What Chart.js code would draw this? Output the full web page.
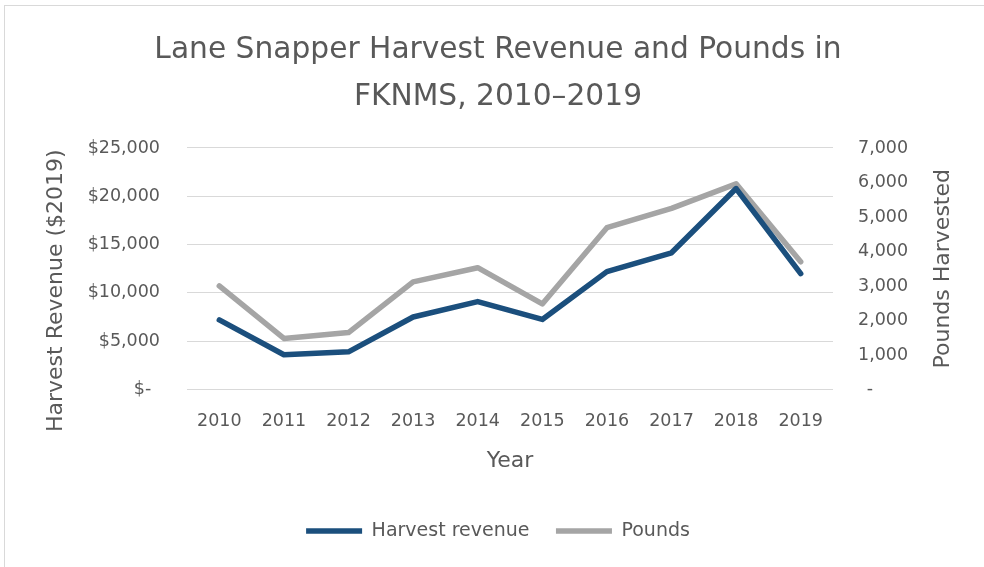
<!DOCTYPE html>
<html>
<head>
<meta charset="utf-8">
<script src="https://cdn.jsdelivr.net/npm/chart.js@4.4.1/dist/chart.umd.min.js"></script>
<style>
  html, body { margin: 0; padding: 0; background: #ffffff; }
  #frame { position: relative; width: 984px; height: 567px; overflow: hidden; }
  #edge {
    position: absolute; left: 4px; top: 5px; right: 0; bottom: 0;
    border-top: 1px solid #d9d9d9; border-left: 1px solid #d9d9d9;
    pointer-events: none;
  }
  canvas { position: absolute; left: 0; top: 0; }
</style>
</head>
<body>
<div id="frame">
  <canvas id="chart" width="984" height="567"></canvas>
  <div id="edge"></div>
</div>
<script>
// Lane snapper harvest, Florida Keys National Marine Sanctuary
const years = ['2010', '2011', '2012', '2013', '2014', '2015', '2016', '2017', '2018', '2019'];
const revenue = [7200, 3600, 3900, 7500, 9100, 7250, 12200, 14150, 20800, 12000];   // $2019
const pounds = [3000, 1480, 1650, 3120, 3530, 2480, 4690, 5250, 5960, 3700];       // lbs

const titleLines = ['Lane Snapper Harvest Revenue and Pounds in', 'FKNMS, 2010\u20132019'];
const revenueLabel = 'Harvest revenue';
const poundsLabel = 'Pounds';
const xTitle = 'Year';
const leftTitle = 'Harvest Revenue ($2019)';
const rightTitle = 'Pounds Harvested';

const FONT = '"DejaVu Sans", sans-serif';
const TEXT = '#595959';
const GRID = '#d9d9d9';
const BLUE = '#1b4f7d';
const GREY = '#a5a5a5';
const TICK_SIZE = 17.5;
const AXIS_TITLE_SIZE = 22;

// Vertical axis titles, both reading bottom-to-top
const sideTitlesPlugin = {
  id: 'sideTitles',
  afterDraw(chart) {
    const ctx = chart.ctx;
    const draw = (text, x, y) => {
      ctx.save();
      ctx.fillStyle = TEXT;
      ctx.font = AXIS_TITLE_SIZE + 'px ' + FONT;
      ctx.textAlign = 'center';
      ctx.textBaseline = 'middle';
      ctx.translate(x, y);
      ctx.rotate(-Math.PI / 2);
      ctx.fillText(text, 0, 0);
      ctx.restore();
    };
    const l = chart.scales.y, r = chart.scales.y2;
    draw(leftTitle, l.left + 44, (l.top + l.bottom) / 2 + 22);
    draw(rightTitle, r.right - 41, (r.top + r.bottom) / 2);
  }
};

new Chart(document.getElementById('chart'), {
  type: 'line',
  data: {
    labels: years,
    datasets: [
      {
        label: revenueLabel, data: revenue, yAxisID: 'y',
        borderColor: BLUE, backgroundColor: BLUE, borderWidth: 5.5,
        pointRadius: 0, borderCapStyle: 'round', borderJoinStyle: 'round', tension: 0
      },
      {
        label: poundsLabel, data: pounds, yAxisID: 'y2',
        borderColor: GREY, backgroundColor: GREY, borderWidth: 5.5,
        pointRadius: 0, borderCapStyle: 'round', borderJoinStyle: 'round', tension: 0
      }
    ]
  },
  options: {
    responsive: false,
    animation: false,
    layout: { padding: { top: 0, left: 12, right: 0, bottom: 16.5 } },
    plugins: {
      tooltip: { enabled: false },
      title: {
        display: true, text: titleLines, color: TEXT,
        font: { family: FONT, size: 29.7, weight: 'normal', lineHeight: 1.582 },
        padding: { top: 26.5, bottom: 27.5 }
      },
      legend: {
        position: 'bottom',
        labels: {
          color: TEXT, font: { family: FONT, size: 19 },
          usePointStyle: true, pointStyle: 'line', pointStyleWidth: 56,
          padding: 26.5
        }
      }
    },
    scales: {
      x: {
        offset: true,
        grid: { display: false, drawTicks: false },
        border: { display: false },
        ticks: { color: TEXT, font: { family: FONT, size: TICK_SIZE }, padding: 21.5, maxRotation: 0 },
        title: {
          display: true, text: xTitle, color: TEXT,
          font: { family: FONT, size: AXIS_TITLE_SIZE }, padding: { top: 10, bottom: 21 }
        },
        afterFit(s) { s.height = 105.5; }
      },
      y: {
        position: 'left', min: 0, max: 25000,
        grid: { color: GRID, lineWidth: 1, drawTicks: false },
        border: { display: false },
        ticks: {
          stepSize: 5000, color: TEXT, font: { family: FONT, size: TICK_SIZE }, padding: 27,
          callback: v => v === 0 ? '$-\u2002' : '$' + v.toLocaleString('en-US')
        },
        afterFit(s) { s.width = 175; }
      },
      y2: {
        position: 'right', min: 0, max: 7000,
        grid: { display: false, drawTicks: false },
        border: { display: false },
        ticks: {
          stepSize: 1000, color: TEXT, font: { family: FONT, size: TICK_SIZE }, padding: 25,
          callback: v => v === 0 ? '\u2002-' : v.toLocaleString('en-US')
        },
        afterFit(s) { s.width = 151; }
      }
    }
  },
  plugins: [sideTitlesPlugin]
});
</script>
</body>
</html>
